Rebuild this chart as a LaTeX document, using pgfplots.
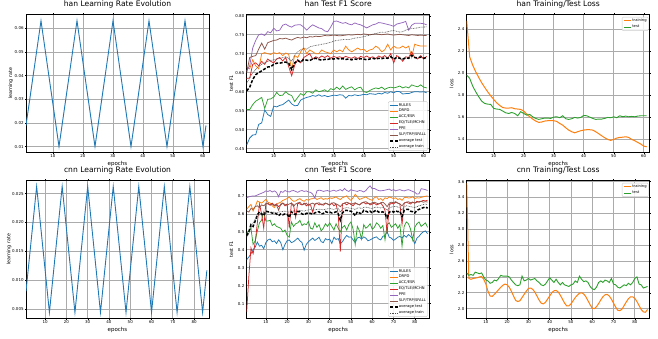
\documentclass[border=0pt]{standalone}
\usepackage{fontspec}
\setmainfont{DejaVu Sans}
\usepackage{pgfplots}
\usepackage{pgfplotstable}
\pgfplotsset{compat=1.18}

\definecolor{c0}{HTML}{1F77B4}
\definecolor{c1}{HTML}{FF7F0E}
\definecolor{c2}{HTML}{2CA02C}
\definecolor{c3}{HTML}{D62728}
\definecolor{c4}{HTML}{9467BD}
\definecolor{c5}{HTML}{8C564B}

% han: per-epoch test F1 of each category and the averages
\pgfplotstableread{
e rules drpd acc eq ppe slp avt avr
1 0.460 0.665 0.553 0.635 0.655 0.650 0.602 0.622
2 0.478 0.660 0.553 0.636 0.668 0.690 0.612 0.636
3 0.486 0.684 0.566 0.672 0.715 0.693 0.632 0.650
4 0.487 0.668 0.575 0.676 0.735 0.695 0.645 0.658
5 0.514 0.660 0.580 0.668 0.750 0.712 0.650 0.667
6 0.518 0.700 0.585 0.680 0.752 0.728 0.655 0.672
7 0.552 0.703 0.556 0.672 0.748 0.712 0.660 0.676
8 0.540 0.700 0.580 0.686 0.758 0.729 0.665 0.680
9 0.535 0.698 0.581 0.680 0.755 0.732 0.666 0.682
10 0.562 0.703 0.586 0.676 0.767 0.735 0.672 0.684
11 0.560 0.700 0.598 0.686 0.760 0.736 0.675 0.686
12 0.564 0.703 0.590 0.690 0.762 0.740 0.675 0.688
13 0.566 0.695 0.591 0.681 0.775 0.739 0.677 0.690
14 0.572 0.702 0.600 0.690 0.778 0.741 0.678 0.692
15 0.578 0.698 0.593 0.666 0.773 0.738 0.675 0.688
16 0.568 0.660 0.590 0.642 0.770 0.736 0.658 0.680
17 0.563 0.695 0.574 0.670 0.775 0.740 0.676 0.696
18 0.564 0.690 0.585 0.685 0.776 0.743 0.682 0.705
19 0.578 0.705 0.595 0.676 0.776 0.741 0.678 0.710
20 0.582 0.716 0.590 0.690 0.770 0.744 0.685 0.714
21 0.585 0.700 0.600 0.695 0.762 0.742 0.683 0.712
22 0.587 0.710 0.600 0.700 0.770 0.745 0.682 0.718
23 0.590 0.705 0.596 0.686 0.776 0.744 0.686 0.720
24 0.588 0.700 0.605 0.692 0.772 0.746 0.688 0.722
25 0.592 0.700 0.600 0.688 0.768 0.745 0.685 0.723
26 0.588 0.710 0.602 0.694 0.766 0.746 0.683 0.725
27 0.590 0.705 0.605 0.690 0.760 0.748 0.685 0.726
28 0.587 0.703 0.600 0.695 0.758 0.747 0.685 0.728
29 0.589 0.700 0.608 0.688 0.770 0.748 0.687 0.730
30 0.591 0.710 0.605 0.693 0.785 0.749 0.686 0.733
31 0.590 0.705 0.612 0.690 0.786 0.748 0.688 0.735
32 0.592 0.710 0.606 0.692 0.783 0.747 0.686 0.736
33 0.591 0.705 0.615 0.689 0.780 0.748 0.687 0.737
34 0.583 0.720 0.606 0.693 0.782 0.749 0.685 0.738
35 0.590 0.710 0.610 0.690 0.778 0.750 0.686 0.737
36 0.589 0.705 0.613 0.688 0.776 0.749 0.684 0.739
37 0.592 0.710 0.605 0.692 0.781 0.750 0.686 0.741
38 0.590 0.715 0.610 0.687 0.778 0.751 0.685 0.742
39 0.591 0.710 0.612 0.693 0.776 0.750 0.687 0.743
40 0.593 0.712 0.600 0.690 0.772 0.752 0.686 0.745
41 0.592 0.705 0.598 0.694 0.768 0.751 0.684 0.747
42 0.595 0.710 0.603 0.689 0.772 0.750 0.686 0.749
43 0.594 0.712 0.607 0.692 0.776 0.751 0.688 0.751
44 0.593 0.720 0.610 0.687 0.778 0.752 0.686 0.753
45 0.596 0.715 0.608 0.694 0.782 0.751 0.688 0.755
46 0.594 0.705 0.612 0.690 0.781 0.750 0.687 0.757
47 0.598 0.710 0.606 0.695 0.779 0.751 0.689 0.756
48 0.596 0.725 0.610 0.688 0.777 0.752 0.688 0.758
49 0.600 0.710 0.612 0.700 0.775 0.750 0.692 0.760
50 0.597 0.720 0.610 0.676 0.772 0.749 0.686 0.761
51 0.601 0.715 0.612 0.695 0.778 0.750 0.690 0.759
52 0.600 0.715 0.615 0.690 0.780 0.751 0.688 0.757
53 0.594 0.720 0.610 0.680 0.782 0.750 0.686 0.758
54 0.595 0.715 0.613 0.692 0.785 0.749 0.689 0.762
55 0.595 0.720 0.610 0.690 0.762 0.748 0.688 0.765
56 0.598 0.690 0.618 0.705 0.775 0.750 0.696 0.766
57 0.600 0.725 0.615 0.690 0.780 0.749 0.690 0.767
58 0.600 0.722 0.613 0.686 0.780 0.748 0.689 0.768
59 0.599 0.720 0.618 0.695 0.780 0.749 0.691 0.770
60 0.600 0.720 0.612 0.686 0.779 0.748 0.688 0.770
61 0.597 0.720 0.610 0.693 0.776 0.748 0.690 0.771
}\hanfone

% cnn: per-epoch test F1 of each category and the averages
\pgfplotstableread{
e rules drpd acc eq ppe slp avt avr
1 0.345 0.626 0.490 0.055 0.690 0.616 0.478 0.470
2 0.360 0.640 0.505 0.250 0.695 0.610 0.500 0.490
3 0.378 0.653 0.520 0.410 0.698 0.630 0.540 0.520
4 0.400 0.616 0.430 0.378 0.700 0.625 0.530 0.550
5 0.415 0.640 0.450 0.440 0.700 0.640 0.560 0.570
6 0.443 0.672 0.505 0.550 0.705 0.645 0.595 0.585
7 0.420 0.665 0.550 0.655 0.710 0.635 0.610 0.595
8 0.425 0.660 0.565 0.600 0.715 0.650 0.600 0.600
9 0.406 0.670 0.610 0.520 0.720 0.645 0.590 0.602
10 0.440 0.681 0.560 0.660 0.728 0.655 0.615 0.605
11 0.455 0.665 0.560 0.655 0.725 0.660 0.612 0.607
12 0.460 0.660 0.565 0.650 0.730 0.648 0.610 0.608
13 0.445 0.645 0.535 0.660 0.722 0.655 0.604 0.610
14 0.450 0.635 0.545 0.648 0.728 0.645 0.605 0.610
15 0.435 0.655 0.530 0.655 0.720 0.650 0.600 0.605
16 0.455 0.660 0.525 0.640 0.695 0.620 0.590 0.610
17 0.440 0.665 0.520 0.650 0.725 0.655 0.600 0.612
18 0.400 0.675 0.500 0.660 0.720 0.660 0.595 0.614
19 0.430 0.680 0.510 0.645 0.730 0.652 0.600 0.615
20 0.450 0.685 0.480 0.655 0.725 0.648 0.598 0.612
21 0.455 0.694 0.470 0.520 0.722 0.655 0.580 0.610
22 0.440 0.680 0.555 0.660 0.728 0.660 0.612 0.614
23 0.445 0.670 0.530 0.650 0.730 0.642 0.600 0.616
24 0.455 0.672 0.545 0.580 0.725 0.655 0.597 0.612
25 0.465 0.680 0.550 0.660 0.720 0.660 0.613 0.618
26 0.450 0.685 0.564 0.655 0.727 0.665 0.612 0.620
27 0.440 0.675 0.535 0.650 0.730 0.650 0.600 0.617
28 0.398 0.670 0.545 0.660 0.725 0.655 0.595 0.615
29 0.430 0.680 0.540 0.645 0.728 0.660 0.603 0.620
30 0.445 0.676 0.558 0.655 0.722 0.645 0.605 0.622
31 0.455 0.683 0.520 0.650 0.720 0.655 0.603 0.624
32 0.465 0.685 0.515 0.610 0.710 0.660 0.598 0.620
33 0.452 0.690 0.550 0.655 0.688 0.652 0.605 0.622
34 0.460 0.680 0.525 0.660 0.728 0.658 0.610 0.625
35 0.470 0.685 0.540 0.650 0.732 0.662 0.612 0.627
36 0.445 0.690 0.505 0.655 0.730 0.650 0.600 0.624
37 0.440 0.680 0.520 0.648 0.725 0.655 0.602 0.622
38 0.462 0.685 0.545 0.660 0.728 0.660 0.613 0.626
39 0.455 0.682 0.530 0.655 0.730 0.655 0.608 0.628
40 0.460 0.690 0.550 0.650 0.725 0.648 0.610 0.630
41 0.435 0.686 0.530 0.660 0.728 0.660 0.605 0.627
42 0.470 0.690 0.510 0.645 0.732 0.662 0.607 0.625
43 0.458 0.695 0.545 0.655 0.726 0.655 0.612 0.630
44 0.462 0.685 0.520 0.600 0.730 0.650 0.600 0.632
45 0.434 0.680 0.500 0.390 0.735 0.640 0.565 0.610
46 0.445 0.690 0.525 0.655 0.728 0.655 0.605 0.628
47 0.465 0.695 0.535 0.660 0.742 0.660 0.618 0.632
48 0.480 0.700 0.510 0.650 0.730 0.665 0.620 0.635
49 0.470 0.685 0.540 0.660 0.725 0.660 0.615 0.633
50 0.472 0.675 0.555 0.655 0.735 0.652 0.615 0.630
51 0.455 0.690 0.515 0.645 0.730 0.658 0.605 0.628
52 0.440 0.709 0.430 0.660 0.728 0.662 0.590 0.625
53 0.466 0.695 0.530 0.655 0.725 0.655 0.612 0.632
54 0.470 0.680 0.505 0.650 0.730 0.650 0.605 0.634
55 0.460 0.685 0.460 0.660 0.728 0.660 0.600 0.630
56 0.472 0.690 0.540 0.665 0.722 0.665 0.620 0.636
57 0.465 0.695 0.520 0.655 0.730 0.668 0.615 0.638
58 0.450 0.685 0.530 0.660 0.745 0.660 0.610 0.635
59 0.455 0.680 0.545 0.650 0.756 0.655 0.615 0.632
60 0.462 0.675 0.515 0.655 0.740 0.662 0.605 0.630
61 0.468 0.690 0.525 0.660 0.742 0.665 0.615 0.635
62 0.472 0.695 0.550 0.650 0.735 0.660 0.620 0.638
63 0.460 0.680 0.540 0.655 0.730 0.655 0.610 0.636
64 0.455 0.685 0.520 0.660 0.728 0.662 0.608 0.633
65 0.475 0.675 0.535 0.645 0.730 0.665 0.612 0.636
66 0.480 0.690 0.455 0.620 0.732 0.655 0.600 0.630
67 0.500 0.685 0.540 0.490 0.735 0.640 0.578 0.620
68 0.470 0.695 0.550 0.650 0.738 0.660 0.610 0.632
69 0.465 0.690 0.525 0.660 0.730 0.665 0.615 0.638
70 0.452 0.685 0.535 0.655 0.735 0.662 0.610 0.640
71 0.460 0.690 0.545 0.665 0.728 0.668 0.617 0.642
72 0.470 0.680 0.520 0.660 0.732 0.660 0.612 0.638
73 0.475 0.685 0.540 0.655 0.735 0.655 0.615 0.635
74 0.465 0.675 0.420 0.540 0.730 0.645 0.585 0.620
75 0.480 0.690 0.530 0.660 0.728 0.660 0.618 0.640
76 0.470 0.693 0.555 0.665 0.732 0.665 0.625 0.645
77 0.485 0.688 0.545 0.660 0.735 0.668 0.625 0.643
78 0.475 0.690 0.515 0.655 0.730 0.662 0.615 0.640
79 0.460 0.695 0.455 0.665 0.725 0.666 0.612 0.638
80 0.434 0.685 0.525 0.660 0.720 0.660 0.605 0.635
81 0.465 0.690 0.545 0.670 0.710 0.665 0.620 0.640
82 0.475 0.688 0.555 0.665 0.712 0.668 0.625 0.645
83 0.490 0.692 0.530 0.670 0.740 0.670 0.630 0.648
84 0.500 0.695 0.540 0.675 0.738 0.665 0.635 0.652
85 0.505 0.698 0.550 0.672 0.735 0.668 0.638 0.655
86 0.490 0.700 0.525 0.676 0.730 0.666 0.632 0.652
}\cnnfone

% han: training and test loss
\pgfplotstableread{
e train test
1 2.479 1.985
2 2.150 1.955
3 2.075 1.885
4 2.015 1.833
5 1.964 1.788
6 1.915 1.748
7 1.873 1.727
8 1.833 1.721
9 1.797 1.718
10 1.764 1.682
11 1.733 1.676
12 1.709 1.673
13 1.690 1.658
14 1.685 1.642
15 1.685 1.636
16 1.688 1.645
17 1.679 1.636
18 1.676 1.615
19 1.673 1.652
20 1.658 1.636
21 1.630 1.621
22 1.606 1.627
23 1.585 1.606
24 1.567 1.591
25 1.555 1.582
26 1.558 1.588
27 1.567 1.594
28 1.570 1.594
29 1.570 1.591
30 1.570 1.603
31 1.564 1.606
32 1.545 1.597
33 1.530 1.615
34 1.506 1.588
35 1.485 1.582
36 1.470 1.588
37 1.460 1.600
38 1.470 1.594
39 1.479 1.600
40 1.485 1.618
41 1.488 1.615
42 1.488 1.603
43 1.485 1.591
44 1.470 1.582
45 1.452 1.585
46 1.433 1.585
47 1.415 1.591
48 1.400 1.600
49 1.391 1.597
50 1.400 1.606
51 1.412 1.597
52 1.418 1.615
53 1.420 1.606
54 1.424 1.612
55 1.418 1.606
56 1.400 1.609
57 1.388 1.606
58 1.373 1.612
59 1.358 1.615
60 1.339 1.615
61 1.333 1.615
}\hanloss

% cnn: training and test loss
\pgfplotstableread{
e train test
1 3.580 2.45
2 2.380 2.42
3 2.370 2.43
4 2.380 2.42
5 2.385 2.46
6 2.390 2.45
7 2.400 2.44
8 2.405 2.45
9 2.370 2.40
10 2.310 2.36
11 2.220 2.35
12 2.160 2.32
13 2.155 2.33
14 2.180 2.36
15 2.210 2.35
16 2.240 2.38
17 2.270 2.42
18 2.295 2.41
19 2.310 2.41
20 2.300 2.41
21 2.270 2.40
22 2.220 2.36
23 2.160 2.33
24 2.105 2.30
25 2.090 2.29
26 2.100 2.30
27 2.140 2.41
28 2.180 2.35
29 2.220 2.36
30 2.255 2.38
31 2.260 2.36
32 2.245 2.37
33 2.210 2.38
34 2.160 2.35
35 2.110 2.33
36 2.070 2.30
37 2.060 2.29
38 2.080 2.31
39 2.120 2.35
40 2.160 2.39
41 2.200 2.36
42 2.225 2.33
43 2.230 2.37
44 2.210 2.33
45 2.170 2.30
46 2.120 2.33
47 2.070 2.30
48 2.035 2.29
49 2.035 2.28
50 2.060 2.30
51 2.100 2.31
52 2.140 2.35
53 2.170 2.33
54 2.195 2.41
55 2.200 2.37
56 2.185 2.34
57 2.150 2.35
58 2.100 2.33
59 2.050 2.28
60 2.005 2.25
61 2.000 2.24
62 2.025 2.27
63 2.065 2.33
64 2.110 2.35
65 2.150 2.33
66 2.175 2.36
67 2.180 2.35
68 2.160 2.33
69 2.120 2.38
70 2.070 2.31
71 2.020 2.30
72 1.980 2.27
73 1.975 2.26
74 1.995 2.28
75 2.040 2.30
76 2.085 2.29
77 2.125 2.32
78 2.150 2.30
79 2.150 2.33
80 2.130 2.38
81 2.090 2.40
82 2.040 2.31
83 1.990 2.30
84 1.960 2.26
85 1.955 2.27
86 1.990 2.28
}\cnnloss

\pgfplotsset{
  panel/.style={
    scale only axis, width=183pt, height=138.5pt,
    xmin=1,
    axis line style={black, line width=0.85pt},
    grid=major, major grid style={black!33, line width=0.7pt},
    tick align=outside, major tick length=1.2pt,
    tick style={black, line width=0.4pt},
    ticklabel style={font=\fontsize{4}{4.8}\selectfont},
    xticklabel style={inner sep=0.6pt},
    yticklabel style={inner sep=1pt},
    /pgf/number format/assume math mode=true,
    scaled ticks=false,
    title style={font=\fontsize{7.6}{8.5}\selectfont, at={(0.5,1)}, anchor=base, yshift=2pt},
    xlabel=epochs,
    xlabel style={font=\fontsize{5.5}{6}\selectfont, at={(axis description cs:0.5,-0.083)}, anchor=center},
    ylabel style={font=\fontsize{4.8}{5.5}\selectfont, at={(axis description cs:-0.083,0.5)}, anchor=center},
    every axis plot/.append style={line width=0.75pt},
  },
  hanx/.style={xmax=62, xtick={10,20,30,40,50,60}},
  cnnx/.style={xmax=87, xtick={10,20,30,40,50,60,70,80}},
  f1legend/.style={
    legend style={at={(0.989,0.014)}, anchor=south east,
      font=\fontsize{3.7}{4.4}\selectfont, draw=black!20, rounded corners=1pt,
      fill=white, fill opacity=0.85, text opacity=1, row sep=0.9pt,
      inner sep=1.2pt, nodes={inner sep=0.4pt}},
    legend cell align=left,
    legend image code/.code={\draw[##1] (0pt,0pt) -- (7.5pt,0pt);},
  },
  losslegend/.style={
    legend style={at={(0.993,0.98)}, anchor=north east,
      font=\fontsize{3.7}{4.4}\selectfont, draw=black!20, rounded corners=1pt,
      fill=white, fill opacity=0.85, text opacity=1, row sep=1.1pt,
      inner sep=1.2pt, nodes={inner sep=0.4pt}},
    legend cell align=left,
    legend image code/.code={\draw[##1] (0pt,0pt) -- (7.5pt,0pt);},
  },
  avgtest/.style={black, line width=1.5pt, dash pattern=on 3pt off 1.6pt},
  avgtrain/.style={black!70, line width=0.6pt, dash pattern=on 0.8pt off 0.8pt},
}

\begin{document}
\begin{tikzpicture}

% ---------------- han ----------------
\begin{axis}[panel, hanx, at={(26pt,185.3pt)}, anchor=south west,
  title={han Learning Rate Evolution}, ylabel={learning rate},
  ymin=0.0074, ymax=0.066, ytick={0.01,0.02,0.03,0.04,0.05,0.06},
  yticklabel style={/pgf/number format/.cd, fixed, fixed zerofill, precision=2}]
\addplot[c0, line width=0.9pt] coordinates {
  (1,0.0189) (6,0.0632) (12,0.0100) (18,0.0632) (24,0.0100) (30,0.0632)
  (36,0.0100) (42,0.0632) (48,0.0100) (54,0.0632) (60,0.0100) (61,0.0189)};
\end{axis}

\begin{axis}[panel, hanx, f1legend, at={(246.7pt,185.3pt)}, anchor=south west,
  title={han Test F1 Score}, ylabel={test F1},
  ymin=0.4395, ymax=0.804, ytick={0.45,0.50,0.55,0.60,0.65,0.70,0.75,0.80},
  yticklabel style={/pgf/number format/.cd, fixed, fixed zerofill, precision=2}]
\addplot[c0] table[x=e, y=rules] {\hanfone}; \addlegendentry{RULES}
\addplot[c1] table[x=e, y=drpd] {\hanfone}; \addlegendentry{DRPD}
\addplot[c2] table[x=e, y=acc] {\hanfone}; \addlegendentry{ACC/ESR}
\addplot[c3] table[x=e, y=eq] {\hanfone}; \addlegendentry{EQ/TLE/MCHN}
\addplot[c4] table[x=e, y=ppe] {\hanfone}; \addlegendentry{PPE}
\addplot[c5] table[x=e, y=slp] {\hanfone}; \addlegendentry{SLP/TRP/SFALL}
\addplot[avgtest] table[x=e, y=avt] {\hanfone}; \addlegendentry{average test}
\addplot[avgtrain] table[x=e, y=avr] {\hanfone}; \addlegendentry{average train}
\end{axis}

\begin{axis}[panel, hanx, losslegend, at={(466.7pt,185.3pt)}, anchor=south west,
  title={han Training/Test Loss}, ylabel={loss},
  ymin=1.279, ymax=2.539, ytick={1.4,1.6,1.8,2.0,2.2,2.4},
  yticklabel style={/pgf/number format/.cd, fixed, fixed zerofill, precision=1}]
\addplot[c1, line width=1pt] table[x=e, y=train] {\hanloss}; \addlegendentry{training}
\addplot[c2, line width=0.9pt] table[x=e, y=test] {\hanloss}; \addlegendentry{test}
\end{axis}

% ---------------- cnn ----------------
\begin{axis}[panel, cnnx, at={(26pt,19.3pt)}, anchor=south west,
  title={cnn Learning Rate Evolution}, ylabel={learning rate},
  ylabel style={at={(axis description cs:-0.092,0.5)}},
  ymin=0.00333, ymax=0.02731, ytick={0.005,0.010,0.015,0.020,0.025},
  yticklabel style={/pgf/number format/.cd, fixed, fixed zerofill, precision=3}]
\addplot[c0, line width=0.9pt] coordinates {
  (1,0.00806) (6,0.02622) (12,0.00442) (18,0.02622) (24,0.00442) (30,0.02622)
  (36,0.00442) (42,0.02622) (48,0.00442) (54,0.02622) (60,0.00442) (66,0.02622)
  (72,0.00442) (78,0.02622) (84,0.00442) (86,0.01169)};
\end{axis}

\begin{axis}[panel, cnnx, f1legend, at={(246.7pt,19.3pt)}, anchor=south west,
  title={cnn Test F1 Score}, ylabel={test F1},
  ymin=0.0162, ymax=0.7875, ytick={0.1,0.2,0.3,0.4,0.5,0.6,0.7},
  yticklabel style={/pgf/number format/.cd, fixed, fixed zerofill, precision=1}]
\addplot[c0] table[x=e, y=rules] {\cnnfone}; \addlegendentry{RULES}
\addplot[c1] table[x=e, y=drpd] {\cnnfone}; \addlegendentry{DRPD}
\addplot[c2] table[x=e, y=acc] {\cnnfone}; \addlegendentry{ACC/ESR}
\addplot[c3] table[x=e, y=eq] {\cnnfone}; \addlegendentry{EQ/TLE/MCHN}
\addplot[c4] table[x=e, y=ppe] {\cnnfone}; \addlegendentry{PPE}
\addplot[c5] table[x=e, y=slp] {\cnnfone}; \addlegendentry{SLP/TRP/SFALL}
\addplot[avgtest] table[x=e, y=avt] {\cnnfone}; \addlegendentry{average test}
\addplot[avgtrain] table[x=e, y=avr] {\cnnfone}; \addlegendentry{average train}
\end{axis}

\begin{axis}[panel, cnnx, losslegend, at={(466.7pt,19.3pt)}, anchor=south west,
  title={cnn Training/Test Loss}, ylabel={loss},
  ymin=1.874, ymax=3.617, ytick={2.0,2.2,2.4,2.6,2.8,3.0,3.2,3.4,3.6},
  yticklabel style={/pgf/number format/.cd, fixed, fixed zerofill, precision=1}]
\addplot[c1, line width=1pt] table[x=e, y=train] {\cnnloss}; \addlegendentry{training}
\addplot[c2, line width=0.9pt] table[x=e, y=test] {\cnnloss}; \addlegendentry{test}
\end{axis}

\pgfresetboundingbox
\path[use as bounding box] (0pt,0pt) rectangle (658pt,338pt);
\end{tikzpicture}
\end{document}
